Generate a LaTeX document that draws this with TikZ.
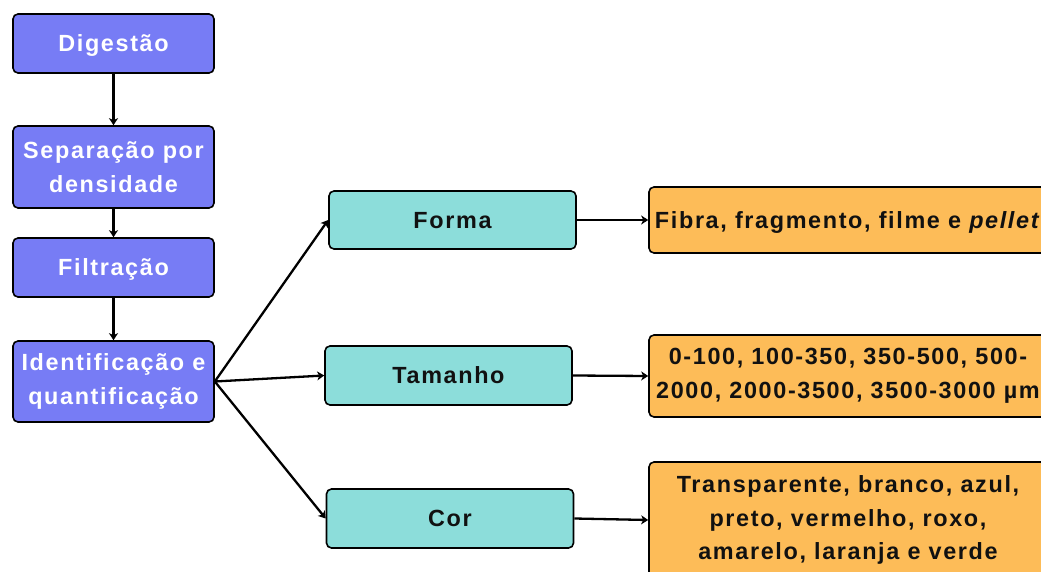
\documentclass[tikz,border=0pt]{standalone}
\usepackage{fontspec}
\setmainfont{Liberation Sans}[LetterSpace=7]
\usetikzlibrary{arrows.meta}
\definecolor{bluebox}{RGB}{119,124,245}
\definecolor{tealbox}{RGB}{140,221,218}
\definecolor{orangebox}{RGB}{253,188,88}
\definecolor{txtdark}{RGB}{17,17,17}
\begin{document}
\begin{tikzpicture}[x=1bp,y=-1bp,
  box/.style={draw=black, line width=1.6bp, rounded corners=5bp, align=center,
    inner sep=0pt, font=\fontsize{23.4bp}{33.5bp}\selectfont\bfseries},
  oneline/.style={text height=16.8bp, text depth=0pt},
  bluestep/.style={box, fill=bluebox, text=white, minimum width=201bp},
  tealstep/.style={box, oneline, fill=tealbox, text=txtdark, minimum width=247bp, minimum height=58bp},
  orangestep/.style={box, fill=orangebox, text=txtdark, minimum width=398bp},
  conn/.style={line width=2.3bp, -{Stealth[length=7bp,width=9bp,inset=2bp]}}
]
\useasboundingbox (0,0) rectangle (1041,572);
\clip (0,0) rectangle (1041,572);
\fill[white] (0,0) rectangle (1041,572);

\node[bluestep, oneline, minimum height=59bp] (dig) at (113.5,43.5) {Digestão};
\node[bluestep, minimum height=82bp] (sep) at (113.5,167) {Separação por\\densidade};
\node[bluestep, oneline, minimum height=59bp] (fil) at (113.5,267.5) {Filtração};
\node[bluestep, minimum height=81bp] (ide) at (113.5,381.5) {Identificação e\\quantificação};

\node[tealstep] (forma) at (452.5,220) {Forma};
\node[tealstep, minimum height=59bp] (tam) at (448.5,375.5) {Tamanho};
\node[tealstep, minimum height=59bp] (cor) at (450,518.5) {Cor};

\node[orangestep, oneline, minimum height=66bp] (o1) at (848,220) {Fibra, fragmento, filme e \textit{pellet}};
\node[orangestep, minimum height=82bp] (o2) at (848,376) {0-100, 100-350, 350-500, 500-\\2000, 2000-3500, 3500-3000 µm};
\node[orangestep, minimum height=116bp] (o3) at (848,520) {Transparente, branco, azul,\\preto, vermelho, roxo,\\amarelo, laranja e verde};

\draw[conn] (dig.south) -- (sep.north);
\draw[conn] (sep.south) -- (fil.north);
\draw[conn] (fil.south) -- (ide.north);
\draw[conn] (ide.east) -- (forma.west);
\draw[conn] (ide.east) -- (tam.west);
\draw[conn] (ide.east) -- (cor.west);
\draw[conn] (forma.east) -- (o1.west);
\draw[conn] (tam.east) -- (o2.west);
\draw[conn] (cor.east) -- (o3.west);
\end{tikzpicture}
\end{document}
